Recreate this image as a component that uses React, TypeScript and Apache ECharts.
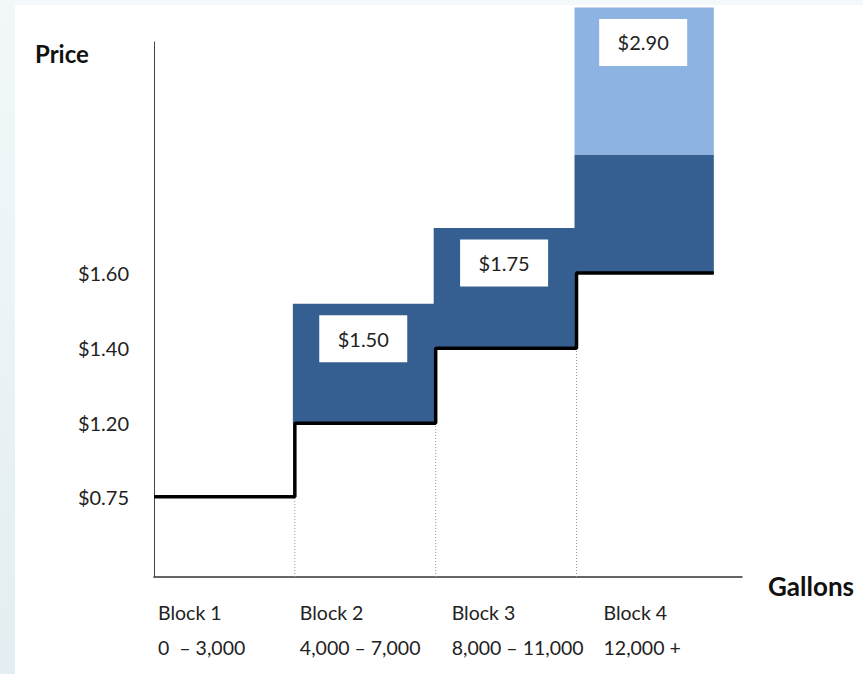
import React, { useEffect, useRef } from 'react';
import * as echarts from 'echarts';

// ---- data ----
const blocks = ['Block 1', 'Block 2', 'Block 3', 'Block 4'];
const gallonRanges = ['0  \u2013 3,000', '4,000 \u2013 7,000', '8,000 \u2013 11,000', '12,000 +'];
const blockStartKgal = [0, 4, 8, 12];
const blockEndKgal = [4, 8, 12, 15.9];
const basePriceLabels = ['$0.75', '$1.20', '$1.40', '$1.60'];
// positions on the (not to scale) price axis
const baseLevels = [1.07, 2.05, 3.05, 4.05];
const peakPriceLabels = ['', '$1.50', '$1.75', '$2.90'];
const darkTopLevels = [0, 3.64, 4.65, 5.63];
const lightTopLevels = [0, 0, 0, 7.59];
const axisTopLevel = 7.13;
const axisEndKgal = 16.7;

const DARK = '#365F91';
const LIGHT = '#8DB3E2';
const FONT = 'Lato, "Open Sans", sans-serif';
const GRID_LEFT = 154;
const GRID_RIGHT = 121;
const xLabelPadPx = [4, 5, 16, 27];

export default function App() {
  const ref = useRef<HTMLDivElement>(null);
  useEffect(() => {
    if (!ref.current) return;
    const chart = echarts.init(ref.current, null, { renderer: 'svg' });

    const pxPerKgal = (863 - GRID_LEFT - GRID_RIGHT) / axisEndKgal;
    const xLabelValues = blockStartKgal.map((x, i) => x + xLabelPadPx[i] / pxPerKgal);

    const barData = blocks.map((_, i) => [
      blockStartKgal[i], blockEndKgal[i], baseLevels[i], darkTopLevels[i], lightTopLevels[i],
    ]);
    const stepData = blockStartKgal.map((x, i) => [x, baseLevels[i]]);
    stepData.push([blockEndKgal[3], baseLevels[3]]);
    const dotData = blockStartKgal.slice(1).map((x, i) => [x, baseLevels[i]]);
    const boxData = blocks
      .map((_, i) => [
        (blockStartKgal[i] + blockEndKgal[i]) / 2,
        Math.max(darkTopLevels[i], lightTopLevels[i]),
        i,
      ])
      .filter((d) => peakPriceLabels[d[2]] !== '');

    chart.setOption({
      animation: false,
      backgroundColor: '#ffffff',
      graphic: [
        {
          type: 'rect',
          shape: { x: 0, y: 0, width: 863, height: 5 },
          style: { fill: '#f3f9fb' },
          z: 0,
        },
        {
          type: 'rect',
          shape: { x: 0, y: 0, width: 15, height: 674 },
          style: {
            fill: new echarts.graphic.LinearGradient(0, 0, 0, 1, [
              { offset: 0, color: '#f2f8fa' },
              { offset: 1, color: '#e2eef1' },
            ]),
          },
          z: 0,
        },
      ],
      title: [
        {
          text: 'Price',
          left: 35,
          top: 41,
          padding: 0,
          textStyle: { fontFamily: FONT, fontWeight: 'bold', fontSize: 24, color: '#111' },
        },
        {
          text: 'Gallons',
          left: 768,
          top: 573,
          padding: 0,
          textStyle: { fontFamily: FONT, fontWeight: 'bold', fontSize: 26, color: '#111' },
        },
      ],
      grid: { left: GRID_LEFT, right: GRID_RIGHT, top: 42, bottom: 97 },
      xAxis: {
        type: 'value',
        min: 0,
        max: axisEndKgal,
        axisLine: { show: true, lineStyle: { color: '#333', width: 1.5 } },
        axisTick: { show: false },
        splitLine: { show: false },
        axisLabel: {
          customValues: xLabelValues,
          margin: 18,
          align: 'left',
          hideOverlap: false,
          fontSize: 19.5,
          lineHeight: 35,
          fontFamily: FONT,
          color: '#222',
          formatter: (v: number) => {
            const i = xLabelValues.findIndex((x) => Math.abs(x - v) < 1e-6);
            if (i < 0) return '';
            return `${blocks[i]}\n${gallonRanges[i]}`;
          },
        },
      },
      yAxis: {
        type: 'value',
        min: 0,
        max: axisTopLevel,
        axisLine: { show: true, lineStyle: { color: '#444', width: 1 } },
        axisTick: { show: false },
        splitLine: { show: false },
        axisLabel: {
          customValues: baseLevels,
          margin: 25,
          fontSize: 20,
          fontFamily: FONT,
          color: '#222',
          formatter: (v: number) => {
            const i = baseLevels.findIndex((l) => Math.abs(l - v) < 1e-6);
            return i < 0 ? '' : basePriceLabels[i];
          },
        },
      },
      series: [
        {
          type: 'custom',
          clip: false,
          z: 2,
          encode: { x: [0, 1], y: [2, 3, 4] },
          data: barData,
          renderItem: (params: any, api: any) => {
            const s = api.value(0), e = api.value(1), b = api.value(2);
            const d = api.value(3), l = api.value(4);
            const children: any[] = [];
            if (d > b) {
              const p0 = api.coord([s, d]);
              const p1 = api.coord([e, b]);
              children.push({
                type: 'rect',
                shape: { x: p0[0] - 2, y: p0[1], width: p1[0] - p0[0] + 2, height: p1[1] - p0[1] },
                style: { fill: DARK },
              });
            }
            if (l > d) {
              const p0 = api.coord([s, l]);
              const p1 = api.coord([e, d]);
              children.push({
                type: 'rect',
                shape: { x: p0[0] - 2, y: p0[1], width: p1[0] - p0[0] + 2, height: p1[1] - p0[1] },
                style: { fill: LIGHT },
              });
            }
            return { type: 'group', children };
          },
        },
        {
          type: 'custom',
          clip: false,
          z: 3,
          data: dotData,
          renderItem: (params: any, api: any) => {
            const x = api.value(0), lv = api.value(1);
            const p0 = api.coord([x, 0]);
            const p1 = api.coord([x, lv]);
            return {
              type: 'line',
              shape: { x1: p0[0], y1: p0[1], x2: p1[0], y2: p1[1] },
              style: { stroke: '#9a9a9a', lineWidth: 1, lineDash: [1, 2] },
            };
          },
        },
        {
          type: 'line',
          step: 'end',
          z: 4,
          symbol: 'none',
          data: stepData,
          lineStyle: { color: '#000', width: 3.5 },
        },
        {
          type: 'custom',
          clip: false,
          z: 5,
          data: boxData,
          renderItem: (params: any, api: any) => {
            const cx = api.value(0), top = api.value(1), idx = api.value(2);
            const p = api.coord([cx, top]);
            const w = 88, h = 47;
            const cy = p[1] + 35;
            return {
              type: 'group',
              children: [
                {
                  type: 'rect',
                  shape: { x: p[0] - 2 - w / 2, y: cy - h / 2, width: w, height: h },
                  style: { fill: '#ffffff' },
                },
                {
                  type: 'text',
                  x: p[0] - 2,
                  y: cy,
                  style: {
                    text: peakPriceLabels[idx],
                    fontSize: 20,
                    fontFamily: FONT,
                    fill: '#222',
                    align: 'center',
                    verticalAlign: 'middle',
                  },
                },
              ],
            };
          },
        },
      ],
    });
    return () => chart.dispose();
  }, []);

  return (
    <div
      ref={ref}
      style={{ position: 'fixed', left: 0, top: 0, width: 863, height: 674 }}
    />
  );
}
